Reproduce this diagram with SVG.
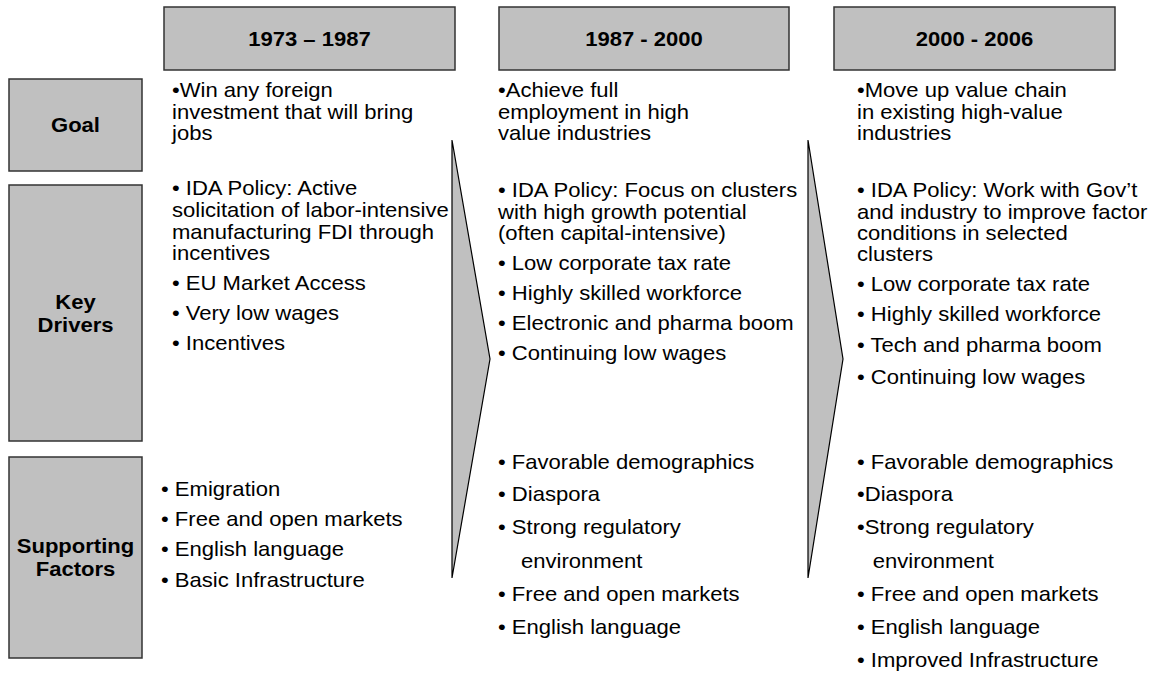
<svg xmlns="http://www.w3.org/2000/svg" width="1151" height="673" viewBox="0 0 1151 673">
<style>
.box{fill:#c0c0c0;stroke:#333;stroke-width:1.5}
.arrow{fill:#c0c0c0;stroke:#000;stroke-width:1.2}
.h{font-family:"Liberation Sans",Arial,sans-serif;font-weight:bold;font-size:21px;fill:#000;text-anchor:middle}
.t{font-family:"Liberation Sans",Arial,sans-serif;font-size:21px;fill:#000}
</style>
<rect width="1151" height="673" fill="#fff"/>
<g id="connectors">
<polygon class="arrow" points="452,140 490,359 452,578"/>
<polygon class="arrow" points="808,140 843,359 808,578"/>
</g>
<g id="hdr1"><rect class="box" x="164" y="7" width="291" height="63"/><text class="h" transform="translate(309.5,46) scale(1.05,1)">1973 – 1987</text></g>
<g id="hdr2"><rect class="box" x="499" y="7" width="290" height="63"/><text class="h" transform="translate(644,46) scale(1.05,1)">1987 - 2000</text></g>
<g id="hdr3"><rect class="box" x="834" y="7" width="281" height="63"/><text class="h" transform="translate(974.5,46) scale(1.05,1)">2000 - 2006</text></g>
<g id="goal"><rect class="box" x="9" y="79" width="133" height="92"/><text class="h" transform="translate(75.5,132) scale(1.05,1)">Goal</text></g>
<g id="drivers"><rect class="box" x="9" y="185" width="133" height="256"/><text class="h" transform="translate(75.5,309) scale(1.05,1)">Key</text><text class="h" transform="translate(75.5,332) scale(1.05,1)">Drivers</text></g>
<g id="factors"><rect class="box" x="9" y="457" width="133" height="201"/><text class="h" transform="translate(75.5,553) scale(1.05,1)">Supporting</text><text class="h" transform="translate(75.5,576) scale(1.05,1)">Factors</text></g>
<g id="col1" transform="translate(172,0) scale(1.05,1)">
<text class="t" x="0" y="97">•Win any foreign</text>
<text class="t" x="0" y="119">investment that will bring</text>
<text class="t" x="0" y="140">jobs</text>
<text class="t" x="0" y="195">• IDA Policy:  Active</text>
<text class="t" x="0" y="217">solicitation of labor-intensive</text>
<text class="t" x="0" y="239">manufacturing FDI through</text>
<text class="t" x="0" y="260">incentives</text>
<text class="t" x="0" y="290">• EU Market Access</text>
<text class="t" x="0" y="320">• Very low wages</text>
<text class="t" x="0" y="350">• Incentives</text>
</g>
<g id="col1b" transform="translate(161,0) scale(1.05,1)">
<text class="t" x="0" y="496">• Emigration</text>
<text class="t" x="0" y="526">• Free and open markets</text>
<text class="t" x="0" y="556">• English language</text>
<text class="t" x="0" y="587">• Basic Infrastructure</text>
</g>
<g id="col2" transform="translate(498,0) scale(1.05,1)">
<text class="t" x="0" y="97">•Achieve full</text>
<text class="t" x="0" y="119">employment in high</text>
<text class="t" x="0" y="140">value industries</text>
<text class="t" x="0" y="197">• IDA Policy: Focus on clusters</text>
<text class="t" x="0" y="219">with high growth potential</text>
<text class="t" x="0" y="240">(often capital-intensive)</text>
<text class="t" x="0" y="270">• Low corporate tax rate</text>
<text class="t" x="0" y="300">• Highly skilled workforce</text>
<text class="t" x="0" y="330">• Electronic and pharma boom</text>
<text class="t" x="0" y="360">•  Continuing low wages</text>
<text class="t" x="0" y="469">• Favorable demographics</text>
<text class="t" x="0" y="501">• Diaspora</text>
<text class="t" x="0" y="534">•  Strong regulatory</text>
<text class="t" x="22" y="568">environment</text>
<text class="t" x="0" y="601">• Free and open markets</text>
<text class="t" x="0" y="634">• English language</text>
</g>
<g id="col3" transform="translate(857,0) scale(1.05,1)">
<text class="t" x="0" y="97">•Move up value chain</text>
<text class="t" x="0" y="119">in existing high-value</text>
<text class="t" x="0" y="140">industries</text>
<text class="t" x="0" y="197">• IDA Policy: Work with Gov’t</text>
<text class="t" x="0" y="219">and industry to improve factor</text>
<text class="t" x="0" y="240">conditions in selected</text>
<text class="t" x="0" y="261">clusters</text>
<text class="t" x="0" y="291">• Low corporate tax rate</text>
<text class="t" x="0" y="321">• Highly skilled workforce</text>
<text class="t" x="0" y="352">• Tech and pharma boom</text>
<text class="t" x="0" y="384">•  Continuing low wages</text>
<text class="t" x="0" y="469">• Favorable demographics</text>
<text class="t" x="0" y="501">•Diaspora</text>
<text class="t" x="0" y="534">•Strong regulatory</text>
<text class="t" x="15" y="568">environment</text>
<text class="t" x="0" y="601">• Free and open markets</text>
<text class="t" x="0" y="634">• English language</text>
<text class="t" x="0" y="667">• Improved Infrastructure</text>
</g>
</svg>
